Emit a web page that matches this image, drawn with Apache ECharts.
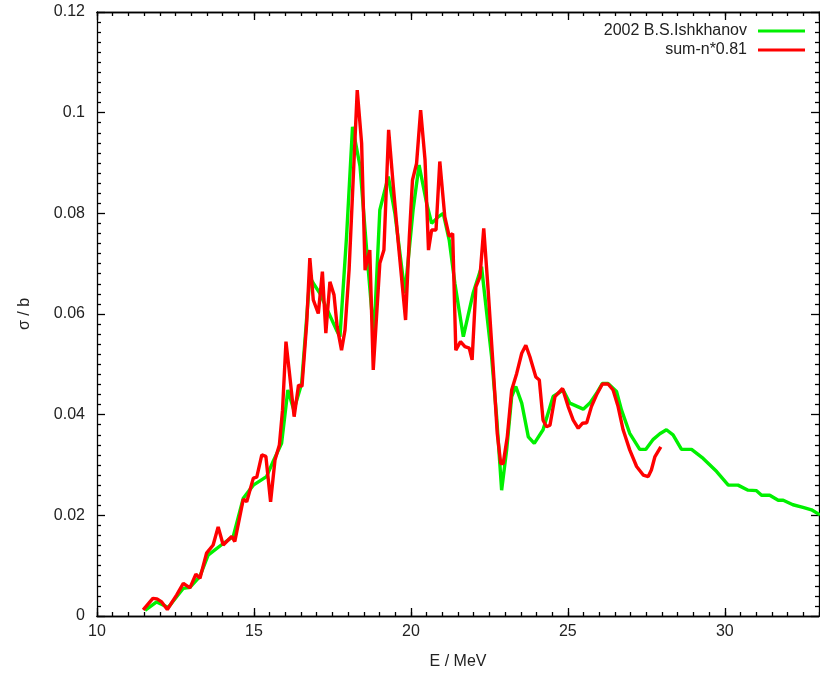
<!DOCTYPE html>
<html>
<head>
<meta charset="utf-8">
<script src="https://cdn.jsdelivr.net/npm/echarts@6/dist/echarts.min.js"></script>
<style>
  html, body { margin: 0; padding: 0; background: #fff; }
  #chart { width: 820px; height: 677px; }
</style>
</head>
<body>
<div id="chart"></div>
<script>
// Photoneutron cross section, sigma (barn) against photon energy E (MeV)

// Evaluated data, 2002 B.S.Ishkhanov
const ishkhanovE = [
  11.53, 11.90, 12.27, 12.75, 12.96, 13.28, 13.54, 14.02, 14.34, 14.66,
  14.98, 15.40, 15.61, 15.88, 16.08, 16.27, 16.52, 16.78, 16.88, 17.10,
  17.63, 17.74, 17.95, 18.14, 18.38, 18.59, 18.82, 19.01, 19.28, 19.49,
  19.81, 20.07, 20.26, 20.50, 20.66, 20.87, 21.03, 21.22, 21.40, 21.67,
  21.98, 22.25, 22.57, 22.73, 22.89, 23.05, 23.21, 23.34, 23.53, 23.74,
  23.93, 24.21, 24.53, 24.85, 25.06, 25.49, 25.70, 25.91, 26.10, 26.28,
  26.55, 26.71, 26.97, 27.29, 27.48, 27.72, 27.93, 28.14, 28.35, 28.62,
  28.94, 29.31, 29.74, 30.11, 30.42, 30.74, 31.01, 31.17, 31.43, 31.70,
  31.86, 32.17, 32.49, 32.76, 33.03
];
const ishkhanovSigma = [
  0.0011, 0.0028, 0.0017, 0.0055, 0.0057, 0.0079, 0.0121, 0.0144, 0.0158, 0.0234,
  0.0260, 0.0277, 0.0307, 0.0343, 0.0449, 0.0409, 0.0462, 0.0674, 0.0662, 0.0641,
  0.0568, 0.0555, 0.0754, 0.0972, 0.0893, 0.0727, 0.0555, 0.0807, 0.0873, 0.0800,
  0.0641, 0.0807, 0.0896, 0.0820, 0.0780, 0.0793, 0.0800, 0.0747, 0.0661, 0.0555,
  0.0641, 0.0694, 0.0515, 0.0396, 0.0250, 0.0330, 0.0436, 0.0456, 0.0423, 0.0356,
  0.0343, 0.0370, 0.0436, 0.0449, 0.0423, 0.0411, 0.0423, 0.0442, 0.0462, 0.0462,
  0.0446, 0.0409, 0.0363, 0.0331, 0.0331, 0.0351, 0.0362, 0.0370, 0.0360, 0.0331,
  0.0331, 0.0313, 0.0287, 0.0260, 0.0260, 0.0250, 0.0249, 0.0240, 0.0240, 0.0230,
  0.0230, 0.0221, 0.0216, 0.0211, 0.0201
];

// Summed channels minus neutrons, scaled by 0.81
const sumE = [
  11.47, 11.78, 11.91, 12.06, 12.24, 12.54, 12.75, 12.96, 13.15, 13.28,
  13.49, 13.70, 13.86, 14.02, 14.29, 14.39, 14.66, 14.77, 14.98, 15.09,
  15.25, 15.38, 15.53, 15.67, 15.81, 15.91, 16.02, 16.12, 16.28, 16.42,
  16.53, 16.68, 16.78, 16.89, 17.05, 17.18, 17.29, 17.42, 17.55, 17.65,
  17.79, 17.90, 18.03, 18.16, 18.29, 18.43, 18.54, 18.61, 18.69, 18.80,
  19.01, 19.14, 19.29, 19.44, 19.60, 19.70, 19.83, 19.95, 20.05, 20.18,
  20.31, 20.45, 20.56, 20.66, 20.80, 20.92, 21.08, 21.22, 21.33, 21.43,
  21.58, 21.72, 21.86, 21.95, 22.07, 22.20, 22.32, 22.46, 22.62, 22.75,
  22.86, 22.94, 23.07, 23.21, 23.37, 23.53, 23.66, 23.79, 23.98, 24.09,
  24.21, 24.32, 24.43, 24.59, 24.83, 25.01, 25.17, 25.33, 25.47, 25.60,
  25.75, 25.91, 26.10, 26.28, 26.44, 26.60, 26.76, 26.97, 27.19, 27.40,
  27.56, 27.66, 27.77, 27.96
];
const sumSigma = [
  0.0012, 0.0035, 0.0034, 0.0028, 0.0013, 0.0042, 0.0065, 0.0056, 0.0083, 0.0075,
  0.0125, 0.0141, 0.0177, 0.0141, 0.0158, 0.0148, 0.0232, 0.0227, 0.0274, 0.0276,
  0.0320, 0.0317, 0.0227, 0.0310, 0.0340, 0.0409, 0.0545, 0.0489, 0.0396, 0.0459,
  0.0456, 0.0582, 0.0711, 0.0628, 0.0601, 0.0684, 0.0562, 0.0664, 0.0638, 0.0575,
  0.0528, 0.0568, 0.0687, 0.0866, 0.1045, 0.0939, 0.0687, 0.0707, 0.0727, 0.0489,
  0.0701, 0.0727, 0.0966, 0.0853, 0.0740, 0.0674, 0.0588, 0.0754, 0.0866, 0.0899,
  0.1005, 0.0906, 0.0727, 0.0767, 0.0767, 0.0903, 0.0793, 0.0754, 0.0760, 0.0528,
  0.0545, 0.0535, 0.0532, 0.0509, 0.0654, 0.0674, 0.0770, 0.0648, 0.0495, 0.0363,
  0.0303, 0.0303, 0.0356, 0.0449, 0.0482, 0.0522, 0.0538, 0.0515, 0.0475, 0.0469,
  0.0389, 0.0376, 0.0379, 0.0436, 0.0452, 0.0416, 0.0389, 0.0373, 0.0383, 0.0384,
  0.0416, 0.0439, 0.0461, 0.0461, 0.0449, 0.0416, 0.0370, 0.0330, 0.0297, 0.0280,
  0.0277, 0.0290, 0.0316, 0.0336
];

const seriesNames = ['2002 B.S.Ishkhanov', 'sum-n*0.81'];
const xTitle = 'E / MeV';
const yTitle = 'σ / b';

const zip = (xs, ys) => xs.map((x, i) => [x, ys[i]]);

const FONT = '"Liberation Sans", Arial, Helvetica, sans-serif';
const TEXT = '#222';
const FRAME = { color: '#000', width: 1.3 };

const chart = echarts.init(document.getElementById('chart'), null, { renderer: 'canvas' });

// Frame axes: major ticks with labels, plus fine ticks, mirrored on the top/right sides.
function xAxisDef(pos, interval, tickLen, withLabels) {
  return {
    type: 'value', position: pos, min: 10, max: 33, interval: interval,
    axisLine: { show: true, onZero: false, lineStyle: FRAME },
    axisTick: { show: true, inside: true, length: tickLen, lineStyle: FRAME },
    axisLabel: {
      show: withLabels, fontFamily: FONT, fontSize: 16, color: TEXT, margin: 8,
      showMaxLabel: false
    },
    splitLine: { show: false },
    name: withLabels ? xTitle : '',
    nameLocation: 'middle', nameGap: 38,
    nameTextStyle: { fontFamily: FONT, fontSize: 16, color: TEXT }
  };
}
function yAxisDef(pos, withLabels) {
  return {
    type: 'value', position: pos, min: 0, max: 0.12, interval: 0.02,
    axisLine: { show: true, onZero: false, lineStyle: FRAME },
    axisTick: { show: true, inside: true, length: 8, lineStyle: FRAME },
    minorTick: { show: true, splitNumber: 10, length: 4, lineStyle: FRAME },
    axisLabel: {
      show: withLabels, fontFamily: FONT, fontSize: 16, color: TEXT, margin: 12,
      formatter: v => String(+v.toFixed(3))
    },
    splitLine: { show: false },
    name: withLabels ? yTitle : '',
    nameLocation: 'middle', nameGap: 64, nameRotate: 90,
    nameTextStyle: { fontFamily: FONT, fontSize: 16, color: TEXT }
  };
}

chart.setOption({
  animation: false,
  backgroundColor: '#fff',
  grid: { left: 97, right: 1, top: 12, bottom: 61, containLabel: false },
  xAxis: [
    xAxisDef('bottom', 5, 8, true),
    xAxisDef('bottom', 0.5, 4, false),
    xAxisDef('top', 5, 8, false),
    xAxisDef('top', 0.5, 4, false)
  ],
  yAxis: [
    yAxisDef('left', true),
    yAxisDef('right', false)
  ],
  legend: {
    orient: 'vertical', right: 15, top: 23, padding: 0,
    align: 'right', itemWidth: 47, itemHeight: 3, itemGap: 3,
    icon: 'rect',
    textStyle: { fontFamily: FONT, fontSize: 16, color: TEXT, padding: [0, 6, 0, 0] },
    data: seriesNames
  },
  series: [
    {
      name: seriesNames[0], type: 'line', xAxisIndex: 0, yAxisIndex: 0,
      data: zip(ishkhanovE, ishkhanovSigma),
      showSymbol: false, symbol: 'none',
      itemStyle: { color: '#00f000' },
      lineStyle: { color: '#00f000', width: 3.4 },
      z: 2
    },
    {
      name: seriesNames[1], type: 'line', xAxisIndex: 0, yAxisIndex: 0,
      data: zip(sumE, sumSigma),
      showSymbol: false, symbol: 'none',
      itemStyle: { color: '#ff0000' },
      lineStyle: { color: '#ff0000', width: 3.4 },
      z: 3
    }
  ]
});
</script>
</body>
</html>
